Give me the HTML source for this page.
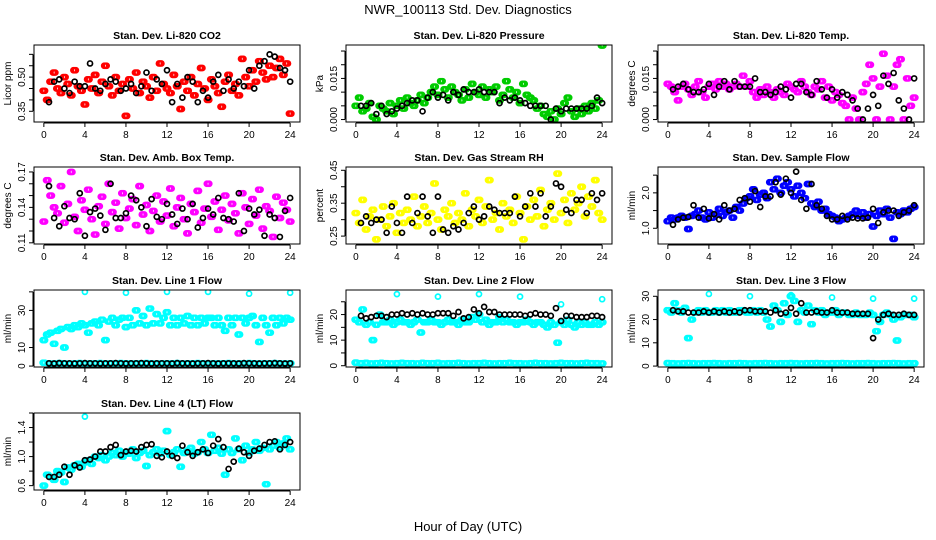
<!DOCTYPE html>
<html><head><meta charset="utf-8">
<style>
html,body{margin:0;padding:0;background:#fff;}
svg{display:block;font-family:"Liberation Sans",sans-serif;}
</style></head>
<body>
<svg id="chart" width="936" height="540" viewBox="0 0 936 540">
<text x="468" y="14" text-anchor="middle" font-size="13">NWR_100113 Std. Dev. Diagnostics</text>
<text x="468" y="531" text-anchor="middle" font-size="13">Hour of Day (UTC)</text>
</svg>
<script>
// ---------- data ----------
const xTicks = [0,4,8,12,16,20,24];
const panelTitles = ["Stan. Dev. Li-820 CO2","Stan. Dev. Li-820 Pressure","Stan. Dev. Li-820 Temp.","Stan. Dev. Amb. Box Temp.","Stan. Dev. Gas Stream RH","Stan. Dev. Sample Flow","Stan. Dev. Line 1 Flow","Stan. Dev. Line 2 Flow","Stan. Dev. Line 3 Flow","Stan. Dev. Line 4 (LT) Flow"];
const yUnits = ["Licor ppm","kPa","degrees C","degrees C","percent","ml/min","ml/min","ml/min","ml/min","ml/min"];
const seriesColors = ["#ff0000","#00cc00","#ff00ff","#ff00ff","#ffff00","#0000ff","#00ffff","#00ffff","#00ffff","#00ffff"];
const yRanges = [[0.303,0.641],[-0.0009,0.0272],[-0.0009,0.0272],[0.109,0.1742],[0.226,0.460],[0.556,2.73],[-0.5,41],[-0.5,29.6],[-0.4,32.7],[0.54,1.6]];
const yTickVals = [[0.35,0.40,0.45,0.50,0.55,0.60],[0,0.005,0.010,0.015,0.020,0.025],[0,0.005,0.010,0.015,0.020,0.025],[0.11,0.12,0.13,0.14,0.15,0.16,0.17],[0.25,0.30,0.35,0.40,0.45],[1.0,1.5,2.0,2.5],[0,10,20,30,40],[0,5,10,15,20,25],[0,10,20,30],[0.6,0.8,1.0,1.2,1.4,1.6]];
const yTickLabels = [["0.35","","","0.50","",""],["0.000","","","0.015","",""],["0.000","","","0.015","",""],["0.11","","","0.14","","","0.17"],["0.25","","0.35","","0.45"],["1.0","","2.0",""],["0","10","","30",""],["0","","10","","20",""],["0","10","20","30"],["0.6","","1.0","","1.4",""]];

const colored0 = [0.44,0.40,0.48,0.52,0.45,0.43,0.50,0.47,0.42,0.53,0.46,0.44,0.38,0.49,0.45,0.51,0.43,0.48,0.55,0.46,0.42,0.50,0.44,0.47,0.33,0.49,0.45,0.52,0.43,0.48,0.46,0.41,0.50,0.44,0.56,0.47,0.45,0.43,0.51,0.46,0.36,0.48,0.44,0.50,0.42,0.47,0.54,0.45,0.40,0.49,0.46,0.43,0.37,0.48,0.51,0.44,0.47,0.42,0.58,0.50,0.46,0.53,0.48,0.57,0.52,0.49,0.55,0.50,0.54,0.58,0.51,0.56,0.34];
const black0 = [0.39,0.48,0.49,0.45,0.43,0.48,0.46,0.46,0.56,0.45,0.44,0.47,0.49,0.48,0.44,0.45,0.47,0.43,0.46,0.52,0.44,0.49,0.47,0.53,0.39,0.47,0.41,0.50,0.48,0.39,0.44,0.41,0.48,0.51,0.44,0.49,0.45,0.48,0.46,0.53,0.45,0.55,0.57,0.60,0.59,0.54,0.53,0.48];
const colored1 = [0.005,0.008,0.003,0.004,0.006,0.001,0.000,0.005,0.004,0.003,0.006,0.002,0.005,0.007,0.004,0.008,0.006,0.005,0.007,0.009,0.006,0.008,0.010,0.012,0.009,0.014,0.011,0.008,0.012,0.010,0.009,0.007,0.011,0.008,0.013,0.010,0.009,0.012,0.008,0.011,0.010,0.012,0.007,0.009,0.014,0.011,0.008,0.010,0.006,0.013,0.009,0.008,0.007,0.004,0.005,0.002,0.001,0.003,0.000,0.004,0.002,0.006,0.008,0.003,0.001,0.004,0.002,0.005,0.003,0.006,0.004,0.007,0.027];
const black1 = [0.005,0.005,0.006,0.002,0.005,0.002,0.003,0.004,0.005,0.006,0.007,0.007,0.003,0.008,0.010,0.008,0.009,0.007,0.010,0.009,0.011,0.010,0.010,0.011,0.010,0.010,0.010,0.006,0.008,0.007,0.008,0.007,0.006,0.005,0.005,0.005,0.005,0.000,0.004,0.003,0.004,0.004,0.004,0.004,0.004,0.005,0.008,0.006];
const colored2 = [0.013,0.012,0.010,0.007,0.012,0.013,0.011,0.009,0.012,0.014,0.010,0.008,0.012,0.013,0.011,0.014,0.012,0.013,0.011,0.012,0.013,0.012,0.016,0.012,0.014,0.010,0.008,0.011,0.009,0.012,0.010,0.008,0.011,0.010,0.009,0.013,0.012,0.011,0.010,0.014,0.012,0.010,0.009,0.012,0.011,0.014,0.008,0.012,0.007,0.010,0.009,0.006,0.005,0.000,0.008,0.004,0.000,0.010,0.013,0.020,0.015,0.000,0.012,0.024,0.016,0.000,0.012,0.020,0.022,0.000,0.015,0.005,0.008];
const black2 = [0.011,0.012,0.013,0.011,0.010,0.010,0.011,0.013,0.009,0.012,0.014,0.011,0.014,0.012,0.012,0.012,0.015,0.010,0.010,0.009,0.010,0.012,0.011,0.008,0.013,0.013,0.010,0.009,0.014,0.011,0.008,0.011,0.008,0.010,0.009,0.007,0.004,0.000,0.004,0.009,0.005,0.016,0.013,0.017,0.007,0.004,0.000,0.015];
const colored3 = [0.128,0.163,0.150,0.140,0.135,0.158,0.127,0.143,0.170,0.132,0.120,0.146,0.138,0.155,0.130,0.117,0.141,0.149,0.126,0.160,0.136,0.144,0.122,0.152,0.131,0.139,0.147,0.125,0.158,0.134,0.142,0.120,0.137,0.150,0.128,0.145,0.133,0.156,0.124,0.140,0.148,0.130,0.118,0.143,0.136,0.154,0.127,0.139,0.160,0.132,0.145,0.121,0.138,0.150,0.129,0.143,0.135,0.118,0.152,0.140,0.126,0.147,0.133,0.155,0.122,0.141,0.137,0.115,0.149,0.131,0.144,0.138,0.128];
const black3 = [0.158,0.131,0.124,0.141,0.131,0.130,0.152,0.116,0.136,0.139,0.133,0.121,0.160,0.131,0.131,0.135,0.150,0.146,0.140,0.124,0.147,0.132,0.130,0.143,0.134,0.126,0.139,0.130,0.143,0.123,0.131,0.139,0.134,0.148,0.131,0.130,0.128,0.152,0.120,0.139,0.134,0.138,0.116,0.134,0.131,0.115,0.137,0.148];
const colored4 = [0.32,0.29,0.36,0.27,0.31,0.33,0.24,0.30,0.34,0.28,0.31,0.35,0.26,0.32,0.29,0.33,0.30,0.37,0.28,0.31,0.34,0.29,0.32,0.41,0.30,0.27,0.33,0.31,0.35,0.29,0.32,0.30,0.38,0.28,0.33,0.31,0.36,0.29,0.34,0.42,0.30,0.32,0.27,0.35,0.31,0.33,0.29,0.37,0.32,0.24,0.34,0.30,0.36,0.31,0.39,0.28,0.33,0.35,0.30,0.44,0.32,0.36,0.29,0.38,0.33,0.35,0.40,0.31,0.37,0.34,0.42,0.32,0.30];
const black4 = [0.29,0.31,0.29,0.30,0.30,0.26,0.34,0.29,0.26,0.37,0.29,0.32,0.37,0.31,0.26,0.37,0.27,0.26,0.28,0.27,0.29,0.32,0.34,0.30,0.31,0.34,0.33,0.32,0.32,0.32,0.37,0.31,0.34,0.38,0.34,0.38,0.31,0.34,0.41,0.40,0.33,0.32,0.36,0.36,0.32,0.38,0.36,0.38];
const colored5 = [1.2,1.3,1.25,1.3,1.35,1.3,0.98,1.35,1.4,1.5,1.3,1.25,1.45,1.3,1.4,1.55,1.35,1.45,1.5,1.3,1.6,1.5,1.7,1.85,1.9,2.1,1.8,1.95,2.0,1.85,2.3,2.1,2.4,2.0,2.2,2.3,2.1,1.9,2.2,2.0,1.85,2.25,1.7,1.6,1.75,1.5,1.55,1.4,1.35,1.3,1.2,1.25,1.3,1.35,1.4,1.5,1.35,1.45,1.3,1.4,1.05,1.35,1.5,1.4,1.55,1.3,0.7,1.45,1.4,1.5,1.45,1.55,1.6];
const black5 = [1.1,1.25,1.3,1.32,1.65,1.3,1.55,1.28,1.4,1.25,1.65,1.5,1.55,1.8,1.85,1.75,2.05,1.6,1.9,1.9,2.3,1.95,2.4,2.0,2.6,1.8,1.55,2.25,1.65,1.55,1.35,1.25,1.25,1.35,1.25,1.3,1.28,1.28,1.3,1.55,1.15,1.45,1.5,1.5,1.35,1.45,1.5,1.65];
const colored6 = [14,17,18,12,19,20,10,21,20,22,21,23,22,18,23,24,22,25,14,24,26,22,25,26,21,26,22,30,23,27,22,31,23,28,23,26,29,22,26,22,26,23,27,22,26,22,26,23,26,26,22,26,22,19,26,22,26,17,26,23,26,27,22,13,26,22,18,26,22,26,23,26,25];
const black6 = [1.5,1.4,1.6,1.5,1.5,1.4,1.5,1.6,1.5,1.5,1.4,1.5,1.5,1.6,1.5,1.4,1.5,1.5,1.6,1.5,1.4,1.5,1.5,1.5,1.4,1.6,1.5,1.5,1.4,1.5,1.5,1.6,1.5,1.4,1.5,1.5,1.5,1.4,1.6,1.5,1.5,1.4,1.5,1.5,1.6,1.5,1.4,1.5];
const colored7 = [18,17,22,16,17,10,16,20,17,17,18,16,17,18,17,17,16,17,18,13,17,17,18,17,17,16,17,18,17,17,16,18,17,17,19,18,20,17,18,16,17,17,19,17,18,17,17,16,17,17,18,17,16,17,17,16,15,17,16,9,17,16,18,16,15,17,16,17,16,16,17,16,17];
const black7 = [19.5,18.5,19,19.5,19.5,19,20,20,20.5,20,20.5,20,20.5,20,20,20.5,20.5,20.5,19.5,21,18.5,19,22,20.5,23,21,21,20,20,20,20,20,19.5,20,20.5,20,20,19.5,22.5,17.5,19.5,19.5,19,19,19,19.5,19.5,19];
const colored8 = [24,23,27,24,23,25,12,20,23,24,23,24,23,23,24,23,24,23,24,23,23,24,24,23,23,24,23,24,23,20,17,26,24,19,27,22,30,28,19,24,23,26,18,24,23,24,22,23,23,24,22,23,23,22,22,23,22,22,22,23,22,15,19,22,23,22,20,11,21,22,22,22,21];
const black8 = [24,23.5,23.5,23,23,23,23.5,23,23.5,23,23.5,23,23.5,23,24,24,23.5,23.5,23.5,23,24,22.5,23,25,22.5,27,23,23,23.5,23,23,24,23,23,23,22.5,22.5,22.5,22.5,12,20,22,22.5,22,22,22.5,22,22];
const colored9 = [0.6,0.75,0.72,0.68,0.8,0.78,0.65,0.85,0.82,0.88,0.9,0.86,0.92,0.95,0.9,1.0,0.98,1.02,0.95,1.0,1.05,1.02,1.08,1.0,1.06,1.04,1.1,0.98,1.05,1.08,0.87,1.02,1.06,1.1,1.04,1.08,1.35,1.02,1.06,1.1,0.86,1.05,1.08,1.12,1.04,1.06,1.2,1.1,1.05,1.3,1.08,1.12,1.04,0.75,1.1,1.05,1.25,1.1,0.95,1.15,1.05,1.1,1.2,1.08,1.12,0.62,1.1,1.15,1.2,1.12,1.18,1.25,1.1];
const black9 = [0.72,0.72,0.75,0.86,0.75,0.88,0.85,0.95,0.96,1.0,1.07,1.07,1.13,1.16,1.02,1.07,1.08,1.07,1.13,1.16,1.17,1.01,0.99,1.07,1.01,0.98,1.15,1.06,1.01,1.06,1.10,1.05,1.15,1.24,1.13,0.83,0.93,1.11,1.06,1.01,1.08,1.11,1.16,1.20,1.21,1.10,1.16,1.20];
const baseline6 = [1.8,1.5,1.4,1.6,1.5,1.3,1.5,1.6,1.4,1.5,1.5,1.6,1.4,1.5,1.5,1.6,1.5,1.4,1.5,1.5,1.6,1.5,1.4,1.5,1.5,1.5,1.6,1.4,1.5,1.5,1.6,1.5,1.4,1.5,1.5,1.5,1.6,1.4,1.5,1.5,1.6,1.5,1.4,1.5,1.5,1.6,1.5,1.4,1.5];
const baseline7 = [1.2,1.0,1.1,0.9,1.0,1.1,1.0,0.9,1.0,1.1,1.0,1.0,0.9,1.1,1.0,1.0,1.1,0.9,1.0,1.0,1.1,1.0,0.9,1.0,1.0,1.1,1.0,0.9,1.0,1.0,1.1,1.0,1.0,0.9,1.0,1.1,1.0,1.0,0.9,1.0,1.1,1.0,1.0,0.9,1.0,1.1,1.0,1.0,0.9];
const baseline8 = [1.3,1.2,1.1,1.2,1.3,1.2,1.1,1.2,1.2,1.3,1.2,1.1,1.2,1.2,1.3,1.2,1.1,1.2,1.2,1.3,1.2,1.1,1.2,1.2,1.3,1.2,1.1,1.2,1.2,1.3,1.2,1.1,1.2,1.2,1.3,1.2,1.1,1.2,1.2,1.3,1.2,1.1,1.2,1.2,1.3,1.2,1.1,1.2,1.2];
const outlierHours6 = [4,8,12,16,20,24];
const outlierVals6 = [40,39.5,40,40,39,39.5];
const outlierHours7 = [4,8,12,16,20,24];
const outlierVals7 = [28,27,28,27,24,26];
const outlierHours8 = [4,8,12,16,20,24];
const outlierVals8 = [31,30,30.5,29.5,29,29];
const outlierHours9 = [4];
const outlierVals9 = [1.55];

const coloredSets = [colored0,colored1,colored2,colored3,colored4,colored5,colored6,colored7,colored8,colored9];
const blackSets = [black0,black1,black2,black3,black4,black5,black6,black7,black8,black9];
const baselineSets = {6:baseline6,7:baseline7,8:baseline8};
const outlierSets = {6:[outlierHours6,outlierVals6],7:[outlierHours7,outlierVals7],8:[outlierHours8,outlierVals8],9:[outlierHours9,outlierVals9]};

// ---------- layout ----------
const svg = document.getElementById('chart');
const NS = 'http://www.w3.org/2000/svg';
const colLeft = [34,346,658], rowTop = [45,167,290,413], BW = 266, BH = 77;
function mk(tag, attrs, parent){ const e=document.createElementNS(NS,tag); for(const k in attrs) e.setAttribute(k,attrs[k]); (parent||svg).appendChild(e); return e; }

for(let p=0;p<10;p++){
  const L = colLeft[p%3], T = rowTop[Math.floor(p/3)];
  const g = mk('g',{});
  
  
  const xScale = h => L + (h + 0.96) / 25.92 * BW;
  const [ylo,yhi] = yRanges[p];
  const yScale = v => T + BH - (v - ylo) / (yhi - ylo) * BH;
  const clipId = 'clip'+p;
  const cp = mk('clipPath',{id:clipId},g); mk('rect',{x:L,y:T,width:BW,height:BH},cp);
  const t = mk('text',{x:L+BW/2,y:T-6,'text-anchor':'middle','font-size':'10.5','font-weight':'bold'},g);
  t.textContent = panelTitles[p];
  
  
  const xa = mk('g',{},g);
  
  
  mk('line',{x1:xScale(0),x2:xScale(24),y1:T+BH+1,y2:T+BH+1,stroke:'#000','stroke-width':1},xa);
  xTicks.forEach(h=>{
    mk('line',{x1:xScale(h),x2:xScale(h),y1:T+BH+1,y2:T+BH+5,stroke:'#000'},xa);
    const tl = mk('text',{x:xScale(h),y:T+BH+16,'text-anchor':'middle','font-size':'10'},xa);
    tl.textContent = h;
    
    
  });
  const ya = mk('g',{},g);
  
  
  const tv = yTickVals[p];
  mk('line',{x1:L-1,x2:L-1,y1:yScale(tv[0]),y2:yScale(tv[tv.length-1]),stroke:'#000'},ya);
  tv.forEach((v,i)=>{
    const y = yScale(v);
    mk('line',{x1:L-5,x2:L-1,y1:y,y2:y,stroke:'#000'},ya);
    if(yTickLabels[p][i]){
      const tl = mk('text',{x:L-9,y:y,'text-anchor':'middle','font-size':'10',transform:`rotate(-90 ${L-9} ${y})`},ya);
      tl.textContent = yTickLabels[p][i];
      
      
    }
  });
  const yt = mk('text',{x:L-23,y:T+BH/2,'text-anchor':'middle','font-size':'10',transform:`rotate(-90 ${L-23} ${T+BH/2})`},g);
  yt.textContent = yUnits[p];
  
  
  const pts = mk('g',{'clip-path':`url(#${clipId})`,fill:'none','stroke-width':1.7},g);
  const col = seriesColors[p];
  const cs = coloredSets[p];
  const dot = (h,v,c,name)=>{
    const c1 = mk('circle',{cx:xScale(h),cy:yScale(v),r:2.5,stroke:c},pts);
    
    
  };
  // each 20-min colored value is drawn as a short run of samples at the same level
  const smear = [-0.12,0,0.12];
  if(baselineSets[p]){ const b=baselineSets[p]; b.forEach((v,i)=>smear.forEach(d=>dot(i*24/(b.length-1)+d,v,col,'baseline-point'))); }
  cs.forEach((v,i)=>smear.forEach(d=>dot(i*24/(cs.length-1)+d,v,col,'data-point')));
  if(outlierSets[p]){ const [hs,vs]=outlierSets[p]; hs.forEach((h,i)=>dot(h,vs[i],col,'outlier-point')); }
  const bs = blackSets[p];
  bs.forEach((v,i)=>dot((i+1)*0.5,v,'#000','mean-point'));
  const box = mk('rect',{x:L,y:T,width:BW,height:BH,fill:'none',stroke:'#000','stroke-width':1},g);
  
  
}
</script>
</body></html>
